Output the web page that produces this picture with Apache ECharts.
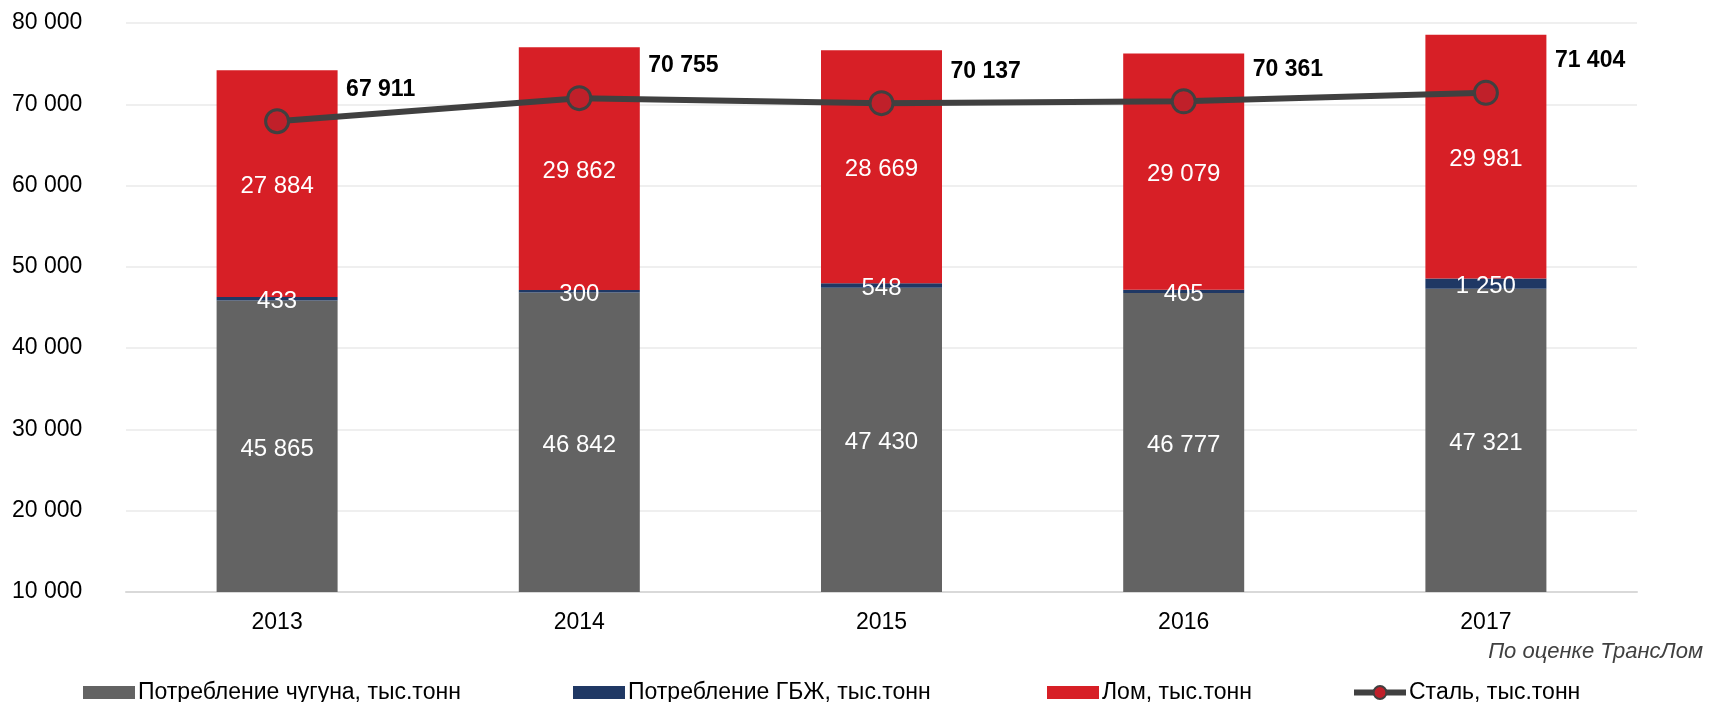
<!DOCTYPE html>
<html>
<head>
<meta charset="utf-8">
<script src="https://cdn.jsdelivr.net/npm/echarts@6/dist/echarts.min.js"></script>
<style>
html, body { margin: 0; padding: 0; background: #fff; }
#chart { width: 1712px; height: 702px; }
</style>
</head>
<body>
<div id="chart"></div>
<script>
// данные
var years = ['2013', '2014', '2015', '2016', '2017'];
var pigIron = [45865, 46842, 47430, 46777, 47321];
var hbi = [433, 300, 548, 405, 1250];
var scrap = [27884, 29862, 28669, 29079, 29981];
var steel = [67911, 70755, 70137, 70361, 71404];

var names = ['Потребление чугуна, тыс.тонн', 'Потребление ГБЖ, тыс.тонн', 'Лом, тыс.тонн', 'Сталь, тыс.тонн'];

var FONT = "'Liberation Sans', Arial, sans-serif";

function fmt(v) {
    return String(v).replace(/\B(?=(\d{3})+(?!\d))/g, ' ');
}

var chart = echarts.init(document.getElementById('chart'));

var barLabel = {
    show: true,
    position: 'inside',
    offset: [0, 3],
    color: '#fff',
    fontSize: 24,
    fontFamily: FONT,
    formatter: function (p) { return fmt(p.value); }
};

function legendAt(left, name, h, extra) {
    var l = {
        left: left,
        top: 676,
        data: [{ name: name, icon: extra ? undefined : 'rect' }],
        itemWidth: 52,
        itemHeight: h,
        itemGap: 0,
        textStyle: { fontSize: 23, color: '#000', fontFamily: FONT, padding: [0, 0, 0, -2] }
    };
    if (extra) {
        l.data = [name];
        l.lineStyle = { width: 6, color: '#404040' };
        l.itemStyle = { color: '#c0202a', borderColor: '#404040', borderWidth: 2 };
    }
    return l;
}

var option = {
    animation: false,
    textStyle: { fontFamily: FONT },
    grid: { left: 126, right: 75, top: 23, bottom: 110 },
    legend: [
        legendAt(78, names[0], 13),
        legendAt(568, names[1], 13),
        legendAt(1042, names[2], 13),
        legendAt(1346, names[3], 16, true)
    ],
    graphic: [{
        type: 'text',
        right: 9,
        top: 641,
        style: {
            text: 'По оценке ТрансЛом',
            fontSize: 22,
            fontStyle: 'italic',
            fontFamily: FONT,
            fill: '#404040'
        }
    }],
    xAxis: {
        type: 'category',
        data: years,
        axisTick: { show: false },
        axisLine: { lineStyle: { color: '#d9d9d9', width: 2 } },
        axisLabel: { color: '#000', fontSize: 23, margin: 19, fontFamily: FONT }
    },
    yAxis: {
        type: 'value',
        min: 10000,
        max: 80000,
        interval: 10000,
        axisLine: { show: false },
        axisTick: { show: false },
        splitLine: { lineStyle: { color: '#efefef', width: 2 } },
        axisLabel: {
            color: '#000',
            fontSize: 23,
            align: 'left',
            margin: 114,
            fontFamily: FONT,
            formatter: function (v) { return fmt(v); }
        }
    },
    series: [
        {
            name: names[0],
            type: 'bar',
            stack: 'total',
            barWidth: 121,
            data: pigIron,
            itemStyle: { color: '#636363' },
            label: barLabel
        },
        {
            name: names[1],
            type: 'bar',
            stack: 'total',
            barWidth: 121,
            data: hbi,
            itemStyle: { color: '#1f3864' },
            label: barLabel
        },
        {
            name: names[2],
            type: 'bar',
            stack: 'total',
            barWidth: 121,
            data: scrap,
            itemStyle: { color: '#d71f26' },
            label: barLabel
        },
        {
            name: names[3],
            type: 'line',
            data: steel,
            symbol: 'circle',
            symbolSize: 23,
            z: 5,
            lineStyle: { color: '#404040', width: 6 },
            itemStyle: { color: '#c0202a', borderColor: '#404040', borderWidth: 3 },
            label: {
                show: true,
                position: 'right',
                distance: 56,
                offset: [0, -32],
                color: '#000',
                fontSize: 23,
                fontWeight: 'bold',
                fontFamily: FONT,
                formatter: function (p) { return fmt(p.value); }
            }
        }
    ]
};

chart.setOption(option);
window.addEventListener('resize', function () {
    chart.resize();
});
</script>
</body>
</html>
